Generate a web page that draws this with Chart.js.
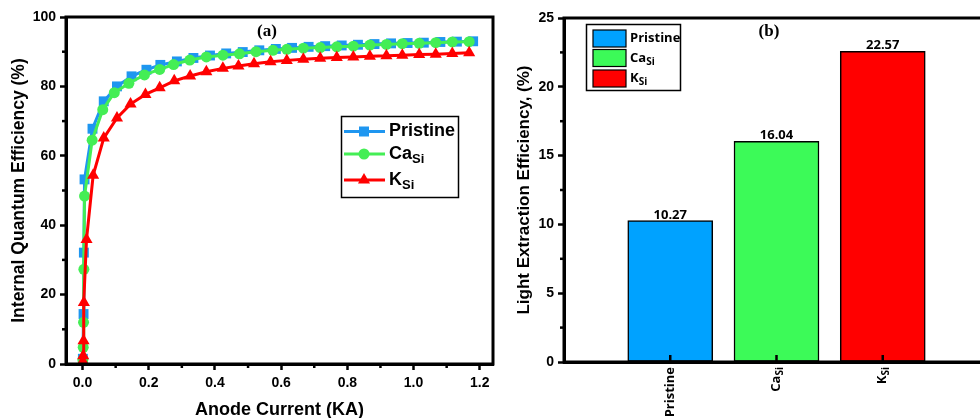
<!DOCTYPE html>
<html>
<head>
<meta charset="utf-8">
<script src="https://cdn.jsdelivr.net/npm/chart.js@4.4.1/dist/chart.umd.min.js"></script>
<style>
    html, body { margin: 0; padding: 0; background: #fff; overflow: hidden; }
    #wrap { position: relative; width: 980px; height: 418px; overflow: hidden; }
    .box { position: absolute; top: 0; height: 418px; }
    #boxA { left: 0; width: 500px; }
    #boxB { left: 500px; width: 500px; }
</style>
</head>
<body>
<div id="wrap">
    <div class="box" id="boxA"><canvas id="chartA"></canvas></div>
    <div class="box" id="boxB"><canvas id="chartB"></canvas></div>
</div>
<script>
// ---- (a) internal quantum efficiency vs anode current ----
const pristineX = [0.001, 0.003, 0.004, 0.006, 0.030, 0.064, 0.104, 0.148, 0.193, 0.235, 0.285, 0.335, 0.385, 0.434, 0.484, 0.534, 0.584, 0.633, 0.683, 0.733, 0.783, 0.832, 0.882, 0.932, 0.982, 1.031, 1.081, 1.131, 1.180];
const pristineY = [1.5, 14.4, 32.1, 53.2, 67.8, 75.7, 80.0, 82.9, 84.8, 86.2, 87.2, 88.2, 88.9, 89.5, 89.9, 90.4, 90.8, 91.1, 91.4, 91.6, 91.8, 92.0, 92.2, 92.4, 92.5, 92.6, 92.8, 92.9, 93.0];

const caX = [0.001, 0.002, 0.003, 0.004, 0.006, 0.029, 0.061, 0.096, 0.140, 0.187, 0.233, 0.275, 0.324, 0.374, 0.424, 0.474, 0.524, 0.575, 0.617, 0.667, 0.718, 0.768, 0.818, 0.868, 0.918, 0.966, 1.017, 1.067, 1.117, 1.168];
const caY = [1.2, 4.8, 12.0, 27.3, 48.4, 64.5, 73.3, 78.2, 80.9, 83.3, 84.9, 86.3, 87.6, 88.5, 89.0, 89.4, 90.0, 90.4, 90.7, 91.0, 91.2, 91.4, 91.6, 91.9, 92.1, 92.3, 92.4, 92.6, 92.8, 92.9];

const kX = [0.001, 0.002, 0.003, 0.004, 0.012, 0.032, 0.064, 0.104, 0.145, 0.190, 0.233, 0.277, 0.325, 0.374, 0.424, 0.471, 0.518, 0.568, 0.617, 0.667, 0.718, 0.768, 0.818, 0.868, 0.918, 0.966, 1.017, 1.067, 1.117, 1.168];
const kY = [0.8, 2.4, 6.7, 17.7, 35.9, 54.4, 65.1, 70.9, 74.9, 77.7, 79.6, 81.6, 83.0, 84.2, 85.2, 85.9, 86.5, 87.1, 87.5, 87.8, 88.1, 88.3, 88.5, 88.7, 88.8, 89.0, 89.2, 89.3, 89.5, 89.7];

const xTicksA = [0, 0.2, 0.4, 0.6, 0.8, 1.0, 1.2];
const xMinorA = [0.1, 0.3, 0.5, 0.7, 0.9, 1.1];
const yTicksA = [0, 20, 40, 60, 80, 100];
const yMinorA = [10, 30, 50, 70, 90];

// ---- (b) light extraction efficiency ----
const barNames = ['Pristine', 'Ca', 'K'];
const barSubs = ['', 'Si', 'Si'];
const barValues = [10.27, 16.04, 22.57];
const yTicksB = [0, 5, 10, 15, 20, 25];
const yMinorB = [2.5, 7.5, 12.5, 17.5, 22.5];

const BLUE = '#1E96F0', GREEN = '#44EE55', RED = '#FF0000';
const BAR_COLORS = ['#00A2FF', '#3CFA58', '#FF0000'];

Chart.defaults.font.family = '"Liberation Sans", Arial, sans-serif';
Chart.defaults.font.weight = 'bold';
Chart.defaults.color = '#000';

function toXY(xs, ys) {
    return xs.map((x, i) => ({ x: x, y: ys[i] }));
}

// text with optional subscript, returns drawn width
function subText(ctx, x, y, main, sub, size, subSize, family) {
    ctx.font = `bold ${size}px ${family}`;
    ctx.fillText(main, x, y);
    let w = ctx.measureText(main).width;
    if (sub) {
        ctx.font = `bold ${subSize}px ${family}`;
        ctx.fillText(sub, x + w, y + size * 0.3);
        w += ctx.measureText(sub).width;
    }
    return w;
}

function subWidth(ctx, main, sub, size, subSize, family) {
    ctx.font = `bold ${size}px ${family}`;
    let w = ctx.measureText(main).width;
    if (sub) {
        ctx.font = `bold ${subSize}px ${family}`;
        w += ctx.measureText(sub).width;
    }
    return w;
}

function minorTicks(ctx, scale, values, len, area) {
    ctx.save();
    ctx.strokeStyle = '#000';
    ctx.lineWidth = 2.5;
    values.forEach(v => {
        const p = scale.getPixelForValue(v);
        ctx.beginPath();
        if (scale.isHorizontal()) {
            ctx.moveTo(p, area.bottom);
            ctx.lineTo(p, area.bottom + len);
        } else {
            ctx.moveTo(area.left, p);
            ctx.lineTo(area.left - len, p);
        }
        ctx.stroke();
    });
    ctx.restore();
}

function marker(ctx, style, cx, cy, color) {
    ctx.fillStyle = color;
    ctx.beginPath();
    if (style === 'rect') {
        ctx.rect(cx - 5, cy - 5, 10, 10);
    } else if (style === 'circle') {
        ctx.arc(cx, cy, 5.5, 0, Math.PI * 2);
    } else {
        const r = 7;
        ctx.moveTo(cx, cy - r);
        ctx.lineTo(cx + r * 0.866, cy + r * 0.5);
        ctx.lineTo(cx - r * 0.866, cy + r * 0.5);
        ctx.closePath();
    }
    ctx.fill();
}

const decorA = {
    id: 'decorA',
    afterDraw(chart) {
        const ctx = chart.ctx;
        const a = chart.chartArea;
        minorTicks(ctx, chart.scales.x, xMinorA, 4, a);
        minorTicks(ctx, chart.scales.y, yMinorA, 4, a);

        ctx.save();
        ctx.strokeStyle = '#000';
        ctx.lineWidth = 3;
        ctx.strokeRect(a.left, a.top, a.right - a.left, a.bottom - a.top);

        // panel label
        ctx.fillStyle = '#000';
        ctx.font = 'bold 17px "Liberation Serif", "Times New Roman", serif';
        ctx.textAlign = 'center';
        ctx.textBaseline = 'middle';
        ctx.fillText('(a)', 267, 32);

        // legend
        ctx.lineWidth = 1.5;
        ctx.strokeRect(341.5, 116.5, 117, 81);
        const rows = [
            { name: 'Pristine', sub: '', color: BLUE, style: 'rect', y: 131.5 },
            { name: 'Ca', sub: 'Si', color: GREEN, style: 'circle', y: 154 },
            { name: 'K', sub: 'Si', color: RED, style: 'triangle', y: 180 }
        ];
        rows.forEach(r => {
            ctx.strokeStyle = r.color;
            ctx.lineWidth = 3;
            ctx.beginPath();
            ctx.moveTo(344, r.y);
            ctx.lineTo(385, r.y);
            ctx.stroke();
            marker(ctx, r.style, 364, r.y, r.color);
            ctx.fillStyle = '#000';
            ctx.textAlign = 'left';
            ctx.textBaseline = 'middle';
            subText(ctx, 389, r.y, r.name, r.sub, 18, 13, '"Liberation Sans", Arial, sans-serif');
        });
        ctx.restore();
    }
};

new Chart(document.getElementById('chartA'), {
    type: 'line',
    data: {
        datasets: [
            {
                label: 'Pristine', data: toXY(pristineX, pristineY), order: 3,
                borderColor: BLUE, backgroundColor: BLUE, borderWidth: 3,
                pointStyle: 'rect', pointRadius: 7, pointBorderWidth: 0
            },
            {
                label: 'CaSi', data: toXY(caX, caY), order: 2,
                borderColor: GREEN, backgroundColor: GREEN, borderWidth: 3,
                pointStyle: 'circle', pointRadius: 5.5, pointBorderWidth: 0
            },
            {
                label: 'KSi', data: toXY(kX, kY), order: 1,
                borderColor: RED, backgroundColor: RED, borderWidth: 3,
                pointStyle: 'triangle', pointRadius: 7, pointBorderWidth: 0
            }
        ]
    },
    options: {
        responsive: true,
        maintainAspectRatio: false,
        animation: false,
        layout: { padding: { top: 17, right: 7, left: 0, bottom: 0 } },
        plugins: { legend: { display: false }, tooltip: { enabled: false } },
        scales: {
            x: {
                type: 'linear', min: -0.05, max: 1.24,
                afterBuildTicks: s => { s.ticks = xTicksA.map(v => ({ value: v })); },
                afterFit: s => { s.height = 54; },
                grid: { drawOnChartArea: false, tickLength: 6, tickWidth: 2.5, tickColor: '#000' },
                border: { color: '#000', width: 3 },
                ticks: { font: { size: 14, weight: 'bold' }, padding: 5, maxRotation: 0, callback: v => v.toFixed(1) },
                title: { display: true, text: 'Anode Current (KA)', font: { size: 18, weight: 'bold', lineHeight: 0.9 }, padding: { top: 0, bottom: 0 } }
            },
            y: {
                min: 0, max: 100,
                afterBuildTicks: s => { s.ticks = yTicksA.map(v => ({ value: v })); },
                afterFit: s => { s.width = 66; },
                grid: { drawOnChartArea: false, tickLength: 6, tickWidth: 2.5, tickColor: '#000' },
                border: { color: '#000', width: 3 },
                ticks: { font: { size: 14, weight: 'bold' }, padding: 4 },
                title: { display: true, text: 'Internal Quantum Efficiency (%)', font: { size: 17.5, weight: 'bold', lineHeight: 1 }, padding: { top: 10, bottom: 0 } }
            }
        }
    },
    plugins: [decorA]
});

const decorB = {
    id: 'decorB',
    afterDraw(chart) {
        const ctx = chart.ctx;
        const a = chart.chartArea;
        minorTicks(ctx, chart.scales.y, yMinorB, 4, a);

        ctx.save();
        ctx.strokeStyle = '#000';
        ctx.lineWidth = 3;
        ctx.strokeRect(a.left, a.top, a.right - a.left, a.bottom - a.top);

        const meta = chart.getDatasetMeta(0);
        const fam = '"Open Sans", "Liberation Sans", sans-serif';
        ctx.fillStyle = '#000';
        barValues.forEach((v, i) => {
            const bar = meta.data[i + 1];
            // inward tick at category
            ctx.lineWidth = 2.5;
            ctx.beginPath();
            ctx.moveTo(bar.x, a.bottom);
            ctx.lineTo(bar.x, a.bottom - 7);
            ctx.stroke();
            // value label
            ctx.font = `bold 13px ${fam}`;
            ctx.textAlign = 'center';
            ctx.textBaseline = 'alphabetic';
            ctx.fillText(v.toFixed(2), bar.x, bar.y - 2);
            // rotated category label
            ctx.save();
            ctx.translate(bar.x, a.bottom + 5);
            ctx.rotate(-Math.PI / 2);
            ctx.textAlign = 'left';
            ctx.textBaseline = 'middle';
            const w = subWidth(ctx, barNames[i], barSubs[i], 13, 10, fam);
            subText(ctx, -w, 0, barNames[i], barSubs[i], 13, 10, fam);
            ctx.restore();
        });

        ctx.font = 'bold 17px "Liberation Serif", "Times New Roman", serif';
        ctx.textAlign = 'center';
        ctx.textBaseline = 'middle';
        ctx.fillText('(b)', 269, 32);

        // legend
        ctx.lineWidth = 1.5;
        ctx.strokeRect(86.5, 24.5, 94, 66);
        const rowsY = [30, 49.5, 70];
        barNames.forEach((n, i) => {
            ctx.fillStyle = BAR_COLORS[i];
            ctx.fillRect(93, rowsY[i], 33, 17);
            ctx.lineWidth = 1.2;
            ctx.strokeRect(93, rowsY[i], 33, 17);
            ctx.fillStyle = '#000';
            ctx.textAlign = 'left';
            ctx.textBaseline = 'middle';
            subText(ctx, 130, rowsY[i] + 8.5, n, barSubs[i], 13, 10, fam);
        });
        ctx.restore();
    }
};

new Chart(document.getElementById('chartB'), {
    type: 'bar',
    data: {
        labels: ['', ...barNames, ''],
        datasets: [{
            data: [null, ...barValues, null],
            backgroundColor: ['#fff', ...BAR_COLORS, '#fff'],
            borderColor: '#000',
            borderWidth: 1.5,
            borderSkipped: false,
            barThickness: 85
        }]
    },
    options: {
        responsive: true,
        maintainAspectRatio: false,
        animation: false,
        layout: { padding: { top: 18, right: 11, left: 0, bottom: 0 } },
        plugins: { legend: { display: false }, tooltip: { enabled: false } },
        scales: {
            x: {
                offset: false,
                afterFit: s => { s.height = 56; },
                grid: { display: false },
                border: { color: '#000', width: 3 },
                ticks: { display: false }
            },
            y: {
                min: 0, max: 25,
                afterBuildTicks: s => { s.ticks = yTicksB.map(v => ({ value: v })); },
                afterFit: s => { s.width = 64; },
                grid: { drawOnChartArea: false, tickLength: 6, tickWidth: 2.5, tickColor: '#000' },
                border: { color: '#000', width: 3 },
                ticks: { font: { size: 14, weight: 'bold' }, padding: 4 },
                title: { display: true, text: 'Light Extraction Efficiency, (%)', font: { size: 17, weight: 'bold', lineHeight: 1 }, padding: { top: 16, bottom: 0 } }
            }
        }
    },
    plugins: [decorB]
});
</script>
</body>
</html>
